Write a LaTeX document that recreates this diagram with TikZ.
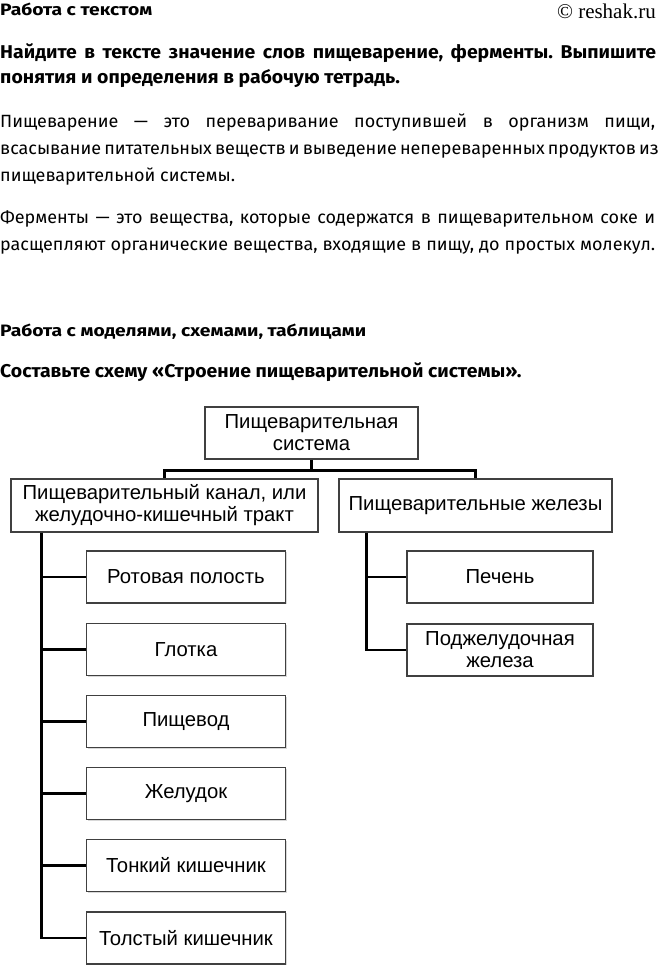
\documentclass[tikz,border=0pt]{standalone}
\usepackage{fontspec}
\setmainfont{Fira Sans}
\newfontfamily\headfont{Fira Sans}[FakeStretch=1.17]
\newfontfamily\taskfont{Fira Sans}[FakeStretch=1.05]
\newfontfamily\bodyfont{Fira Sans}[FakeStretch=1.015]
\newfontfamily\diagfont{Liberation Sans}
\newfontfamily\markfont{Liberation Serif}
\usetikzlibrary{shadows,calc}
\frenchspacing
\begin{document}
\begin{tikzpicture}[x=1pt,y=-1pt,
  box/.style={draw=black!75, line width=1.1pt, fill=white, minimum height=52pt,
    inner sep=0pt, align=center, font=\diagfont\fontsize{20.3}{22}\selectfont,
    drop shadow={shadow xshift=1pt, shadow yshift=-1.2pt, fill=black!30}},
  child/.style={box, minimum width=199pt},
  gchild/.style={box, minimum width=186pt},
  conn/.style={line width=2.6pt, black, line join=miter},
  txt/.style={anchor=base west, inner sep=0pt},
  head/.style={txt, font=\headfont\bfseries\fontsize{16.5}{20}\selectfont},
  task/.style={txt, font=\taskfont\bfseries\fontsize{18.5}{22}\selectfont},
  body/.style={txt, font=\bodyfont\fontsize{17.7}{21}\selectfont}]
\fill[white] (0,0) rectangle (657,969);
\useasboundingbox (0,0) rectangle (657,969);

% ---- text part ----
\node[head] (h1) at (0,16) {Работа с текстом};
\node[anchor=base east, inner sep=0pt, font=\markfont\fontsize{21}{24}\selectfont] (mark) at (656,19) {© reshak.ru};
\node[task] (q1) at (0,58) {\makebox[656pt][s]{Найдите в тексте значение слов пищеварение, ферменты. Выпишите}};
\node[task] (q2) at (0,83) {понятия и определения в рабочую тетрадь.};
\node[body] (p1) at (0,127) {\makebox[655pt][s]{Пищеварение — это переваривание поступившей в организм пищи,}};
\node[body] (p2) at (0,154) {\makebox[655pt][s]{всасывание питательных веществ и выведение непереваренных продуктов из}};
\node[body] (p3) at (0,181) {пищеварительной системы.};
\node[body] (p4) at (0,223) {\makebox[655pt][s]{Ферменты — это вещества, которые содержатся в пищеварительном соке и}};
\node[body] (p5) at (0,250) {\makebox[655pt][s]{расщепляют органические вещества, входящие в пищу, до простых молекул.}};
\node[head] (h2) at (0,336) {Работа с моделями, схемами, таблицами};
\node[task] (q3) at (0,377) {Составьте схему «Строение пищеварительной системы».};

% ---- diagram ----
\node[box, minimum width=213pt] (top) at (311.5,433) {Пищеварительная\\система};
\node[box, minimum width=307pt, minimum height=53pt] (canal) at (164.5,505.5) {Пищеварительный канал, или\\желудочно-кишечный тракт};
\node[box, minimum width=273pt, minimum height=53pt] (glands) at (475.5,505.5) {Пищеварительные железы};

\node[child] (c1) at (186,577) {Ротовая полость};
\node[child] (c2) at (186,649.5) {Глотка};
\node[child] (c3) at (186,721.5) {Пищевод};
\node[child] (c4) at (186,793.5) {Желудок};
\node[child] (c5) at (186,865.5) {Тонкий кишечник};
\node[child] (c6) at (186,938) {Толстый кишечник};

\node[gchild] (g1) at (500,577) {Печень};
\node[gchild] (g2) at (500,650) {Поджелудочная\\железа};

\draw[conn] (top.south) -- ++(0,11) coordinate (jn);
\draw[conn] (canal.north) |- (jn) -| (glands.north);

\coordinate (lt) at ($(canal.south west)+(31,0)$);
\draw[conn] (lt) |- (c6.west);
\foreach \n in {c1,c2,c3,c4,c5} \draw[conn] (lt |- \n.west) -- (\n.west);

\coordinate (rt) at ($(glands.south west)+(28,0)$);
\draw[conn] (rt) |- (g2.west);
\draw[conn] (rt |- g1.west) -- (g1.west);
\end{tikzpicture}
\end{document}
